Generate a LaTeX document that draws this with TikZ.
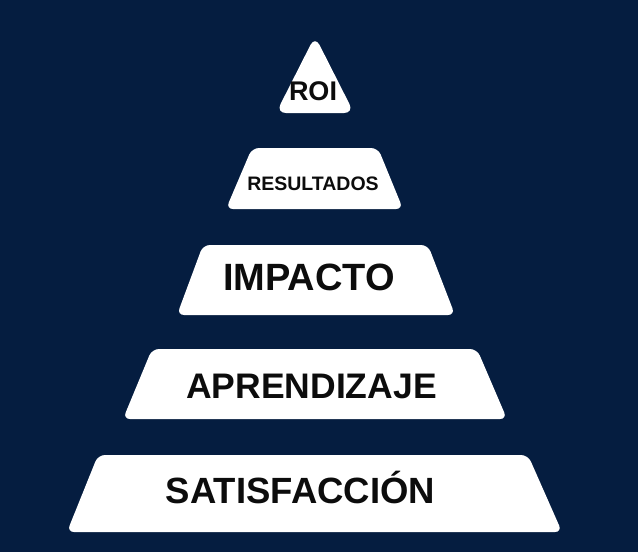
\documentclass[tikz,border=0pt]{standalone}
\usepackage{fontspec}
\setmainfont{Liberation Sans}
\definecolor{navy}{RGB}{5,29,64}
\definecolor{ink}{RGB}{12,12,12}
\tikzset{
    block/.style={fill=white,rounded corners=7pt},
    level/.style={anchor=base,text=ink,inner sep=0pt},
}
\newcommand{\lvlfont}[1]{\fontsize{#1}{#1}\selectfont\bfseries}
\begin{document}
\begin{tikzpicture}[x=1pt,y=-1pt]
        \fill[navy] (0,0) rectangle (638,552);
        \useasboundingbox (0,0) rectangle (638,552);
        % pyramid pieces, top to bottom
        \fill[block,rounded corners=10pt] (315,36) -- (354,113) -- (276,113) -- cycle;
        \fill[block] (252,148) -- (378,148) -- (403,209) -- (226,209) -- cycle;
        \fill[block] (203,245) -- (428,245) -- (455,315) -- (177,315) -- cycle;
        \fill[block] (152,349) -- (477,349) -- (507,419) -- (123,419) -- cycle;
        \fill[block] (98,455) -- (528,455) -- (562,532) -- (67,532) -- cycle;
        % labels
        \node (roi) [level,font=\lvlfont{27}] at (313,100.5) {ROI};
        \node (resultados) [level,font=\lvlfont{19.5}] at (313,190) {RESULTADOS};
        \node (impacto) [level,font=\lvlfont{38}] at (309,290) {IMPACTO};
        \node (aprendizaje) [level,font=\lvlfont{35.5}] at (311.5,398) {APRENDIZAJE};
        \node (satisfaccion) [level,font=\lvlfont{36.5}] at (300.5,503) {SATISFACCIÓN};
    \end{tikzpicture}
\end{document}
